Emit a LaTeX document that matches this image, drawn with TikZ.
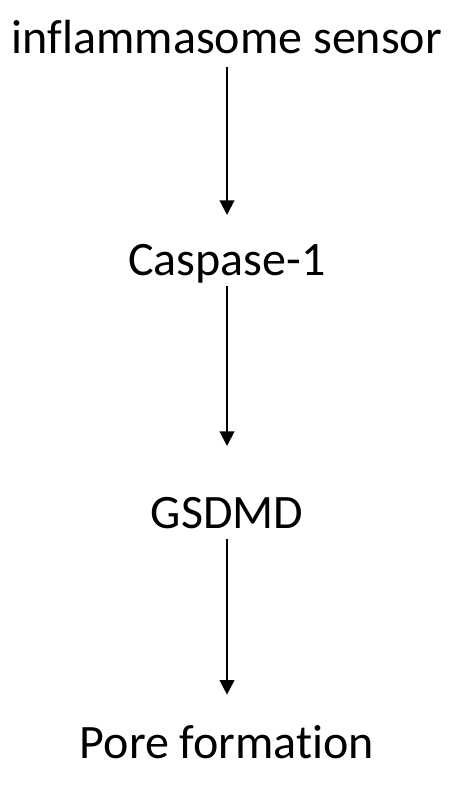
\documentclass[tikz,border=0pt]{standalone}
\usepackage{fontspec}
\setmainfont{Carlito}[Ligatures=NoCommon]
\usetikzlibrary{arrows.meta}
\begin{document}
\begin{tikzpicture}[x=0.75pt,y=-0.75pt,
  label/.style={font=\fontsize{36}{43}\selectfont, inner sep=0pt, outer sep=0pt,
                text height=0.75em, text depth=0.25em, anchor=base},
  flow/.style={line width=1.5pt, -{Triangle[length=11pt,width=11pt]}}]
  \useasboundingbox (0,0) rectangle (450,790);
  \node[label] (sensor) at (227,53) {inflammasome sensor};
  \node[label] (casp) at (227,275) {Caspase-1};
  \node[label] (gsdmd) at (227,528) {GSDMD};
  \node[label] (pore) at (227,758) {Pore formation};
  \draw[flow, shorten <=8pt, shorten >=37.5pt] (sensor) -- (casp);
  \draw[flow, shorten <=6pt, shorten >=54pt] (casp) -- (gsdmd);
  \draw[flow, shorten <=6pt, shorten >=40pt] (gsdmd) -- (pore);
\end{tikzpicture}
\end{document}
